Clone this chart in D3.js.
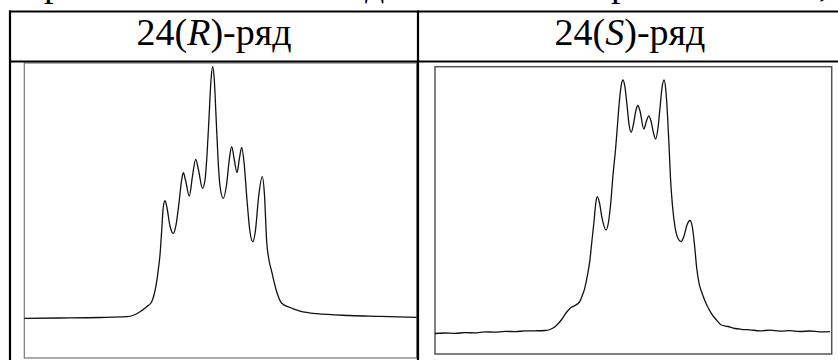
<!DOCTYPE html>
<html>
<head>
<meta charset="utf-8">
<script src="https://cdn.jsdelivr.net/npm/d3@7"></script>
<style>
  body { margin: 0; background: #fff; }
  svg { display: block; }
</style>
</head>
<body>
<svg id="chart" width="838" height="360"></svg>
<script>
// column headers: plain part, italic letter, tail
const headerPre = ["24(", "24("];
const headerItalic = ["R", "S"];
const headerPost = [")-ряд", ")-ряд"];

// descenders of the text line cut off above the table
const cutGlyphs = ["р", "д", "р", ","];
const cutGlyphPos = [44, 365, 611, 819];

// 24(R) spectrum, relative position (0..100) and intensity (0..100)
const rShift = [
  0, 9.10, 19.29, 26.10, 27.96, 29.49, 31.19, 32.47, 33.18, 33.74, 34.20, 34.58, 35.02, 35.42,
  35.86, 36.37, 37.13, 37.97, 38.66, 39.42, 40.06, 40.52, 41.08, 42.05, 42.86, 43.68, 44.39,
  45.41, 46.05, 46.56, 47.07, 47.58, 48.01, 48.42, 48.85, 49.36, 49.87, 50.71, 51.53, 52.29,
  52.85, 53.52, 54.21, 54.84, 55.40, 55.99, 56.75, 57.52, 58.21, 58.92, 59.68, 60.65, 61.21,
  61.77, 62.36, 63.05, 64.32, 65.60, 67.71, 70.26, 74.52, 83.0, 90.65, 100
];
const rIntensity = [
  13.46, 13.56, 13.73, 14.0, 14.58, 15.69, 17.39, 19.08, 22.03, 25.86, 30.51, 34.92, 43.39, 51.19,
  53.32, 50.85, 44.75, 42.27, 45.08, 52.54, 60.0, 62.81, 60.34, 54.92, 61.69, 67.36, 63.73,
  57.53, 60.34, 68.81, 81.36, 94.24, 98.81, 94.24, 82.37, 67.80, 58.31, 54.14, 58.64, 67.80,
  71.63, 67.12, 62.81, 67.80, 71.42, 66.44, 53.56, 42.71, 39.42, 43.39, 54.24, 61.46, 55.25,
  39.42, 33.22, 29.25, 22.47, 18.54, 17.12, 15.93, 15.02, 14.41, 14.14, 13.80
];

// 24(S) spectrum
const sShift = [
  0, 2.52, 5.04, 7.56, 10.08, 12.60, 15.12, 17.65, 20.17, 22.69, 25.21, 27.73, 28.99, 30.25,
  31.84, 33.02, 34.36, 35.29, 36.48, 37.18, 37.74, 38.44, 39.00, 39.58, 40.08, 40.53, 40.91,
  41.47, 42.10, 43.11, 43.74, 44.37, 44.87, 45.50, 46.00, 46.51, 46.96, 47.39, 47.84, 48.40,
  48.90, 49.46, 50.04, 50.67, 51.12, 51.68, 52.63, 53.31, 53.89, 54.45, 55.08, 55.63, 56.21,
  56.72, 57.22, 57.73, 58.23, 58.61, 58.99, 59.36, 59.87, 60.50, 61.26, 62.01, 62.77, 63.52,
  64.28, 64.91, 65.42, 65.97, 66.55, 67.31, 68.06, 68.82, 69.65, 70.83, 72.17, 73.86, 75.62,
  77.21, 79.40, 81.93, 84.45, 86.97, 89.49, 92.01, 94.53, 97.05, 99.57
];
const sIntensity = [
  7.14, 7.31, 7.17, 7.45, 7.34, 7.73, 7.59, 7.87, 7.80, 8.04, 8.08, 8.18, 8.53, 9.50,
  11.83, 14.27, 16.25, 16.88, 18.20, 20.54, 22.87, 27.50, 32.13, 39.68, 46.05, 52.56, 54.75,
  52.56, 47.34, 43.16, 45.94, 53.60, 62.30, 71.01, 79.71, 88.41, 93.63, 95.37, 93.28, 86.67,
  80.06, 77.17, 80.06, 84.93, 86.49, 84.58, 78.32, 81.10, 82.91, 81.10, 76.92, 74.83, 78.66,
  85.62, 92.59, 95.37, 91.19, 83.19, 72.75, 61.26, 51.51, 44.20, 40.20, 39.09, 41.07, 44.90,
  46.47, 43.86, 37.94, 29.93, 24.71, 21.23, 18.45, 16.19, 14.17, 12.01, 10.09, 9.57, 8.88,
  8.60, 8.42, 8.08, 8.28, 7.94, 8.14, 7.83, 8.01, 7.69, 7.80
];

const svg = d3.select("#chart");
const serif = "'Liberation Serif', 'Times New Roman', serif";

// cut-off line of text above
svg.append("g")
  .selectAll("text")
  .data(cutGlyphs)
  .join("text")
  .attr("x", (d, i) => cutGlyphPos[i])
  .attr("y", -4)
  .attr("font-family", serif)
  .attr("font-size", 38)
  .text(d => d);

// panels
const panels = [
  { shift: rShift, intensity: rIntensity, x: [24.3, 416.7], y: [358, 63], frame: "#777", fw: 1.2 },
  { shift: sShift, intensity: sIntensity, x: [435, 831.7], y: [354, 66.7], frame: "#555", fw: 1.5 },
];

panels.forEach(p => {
  const x = d3.scaleLinear().domain([0, 100]).range(p.x);
  const y = d3.scaleLinear().domain([0, 100]).range(p.y);
  const g = svg.append("g");

  g.append("rect")
    .attr("x", x(0))
    .attr("y", y(100))
    .attr("width", x(100) - x(0))
    .attr("height", y(0) - y(100))
    .attr("fill", "none")
    .attr("stroke", p.frame)
    .attr("stroke-width", p.fw);

  const line = d3.line()
    .x(d => x(d[0]))
    .y(d => y(d[1]))
    .curve(d3.curveMonotoneX);

  g.append("path")
    .datum(d3.zip(p.shift, p.intensity))
    .attr("d", line)
    .attr("fill", "none")
    .attr("stroke", "#111")
    .attr("stroke-width", 1.3)
    .attr("stroke-linejoin", "round");
});

// table rules
const table = svg.append("g").attr("stroke", "#000").attr("stroke-width", 2.2);
table.append("line").attr("x1", 9).attr("x2", 838).attr("y1", 11.5).attr("y2", 11.5);
table.append("line").attr("x1", 9).attr("x2", 838).attr("y1", 61.5).attr("y2", 61.5);
table.append("line").attr("x1", 10).attr("x2", 10).attr("y1", 10.5).attr("y2", 360);
table.append("line").attr("x1", 418).attr("x2", 418).attr("y1", 10.5).attr("y2", 360);

// headers
const headerX = [214, 630];
const ht = svg.append("g")
  .selectAll("text")
  .data(headerPre)
  .join("text")
  .attr("x", (d, i) => headerX[i])
  .attr("y", 44.5)
  .attr("text-anchor", "middle")
  .attr("font-family", serif)
  .attr("font-size", 38);
ht.append("tspan").text(d => d);
ht.append("tspan").attr("font-style", "italic").text((d, i) => headerItalic[i]);
ht.append("tspan").text((d, i) => headerPost[i]);
</script>
</body>
</html>
